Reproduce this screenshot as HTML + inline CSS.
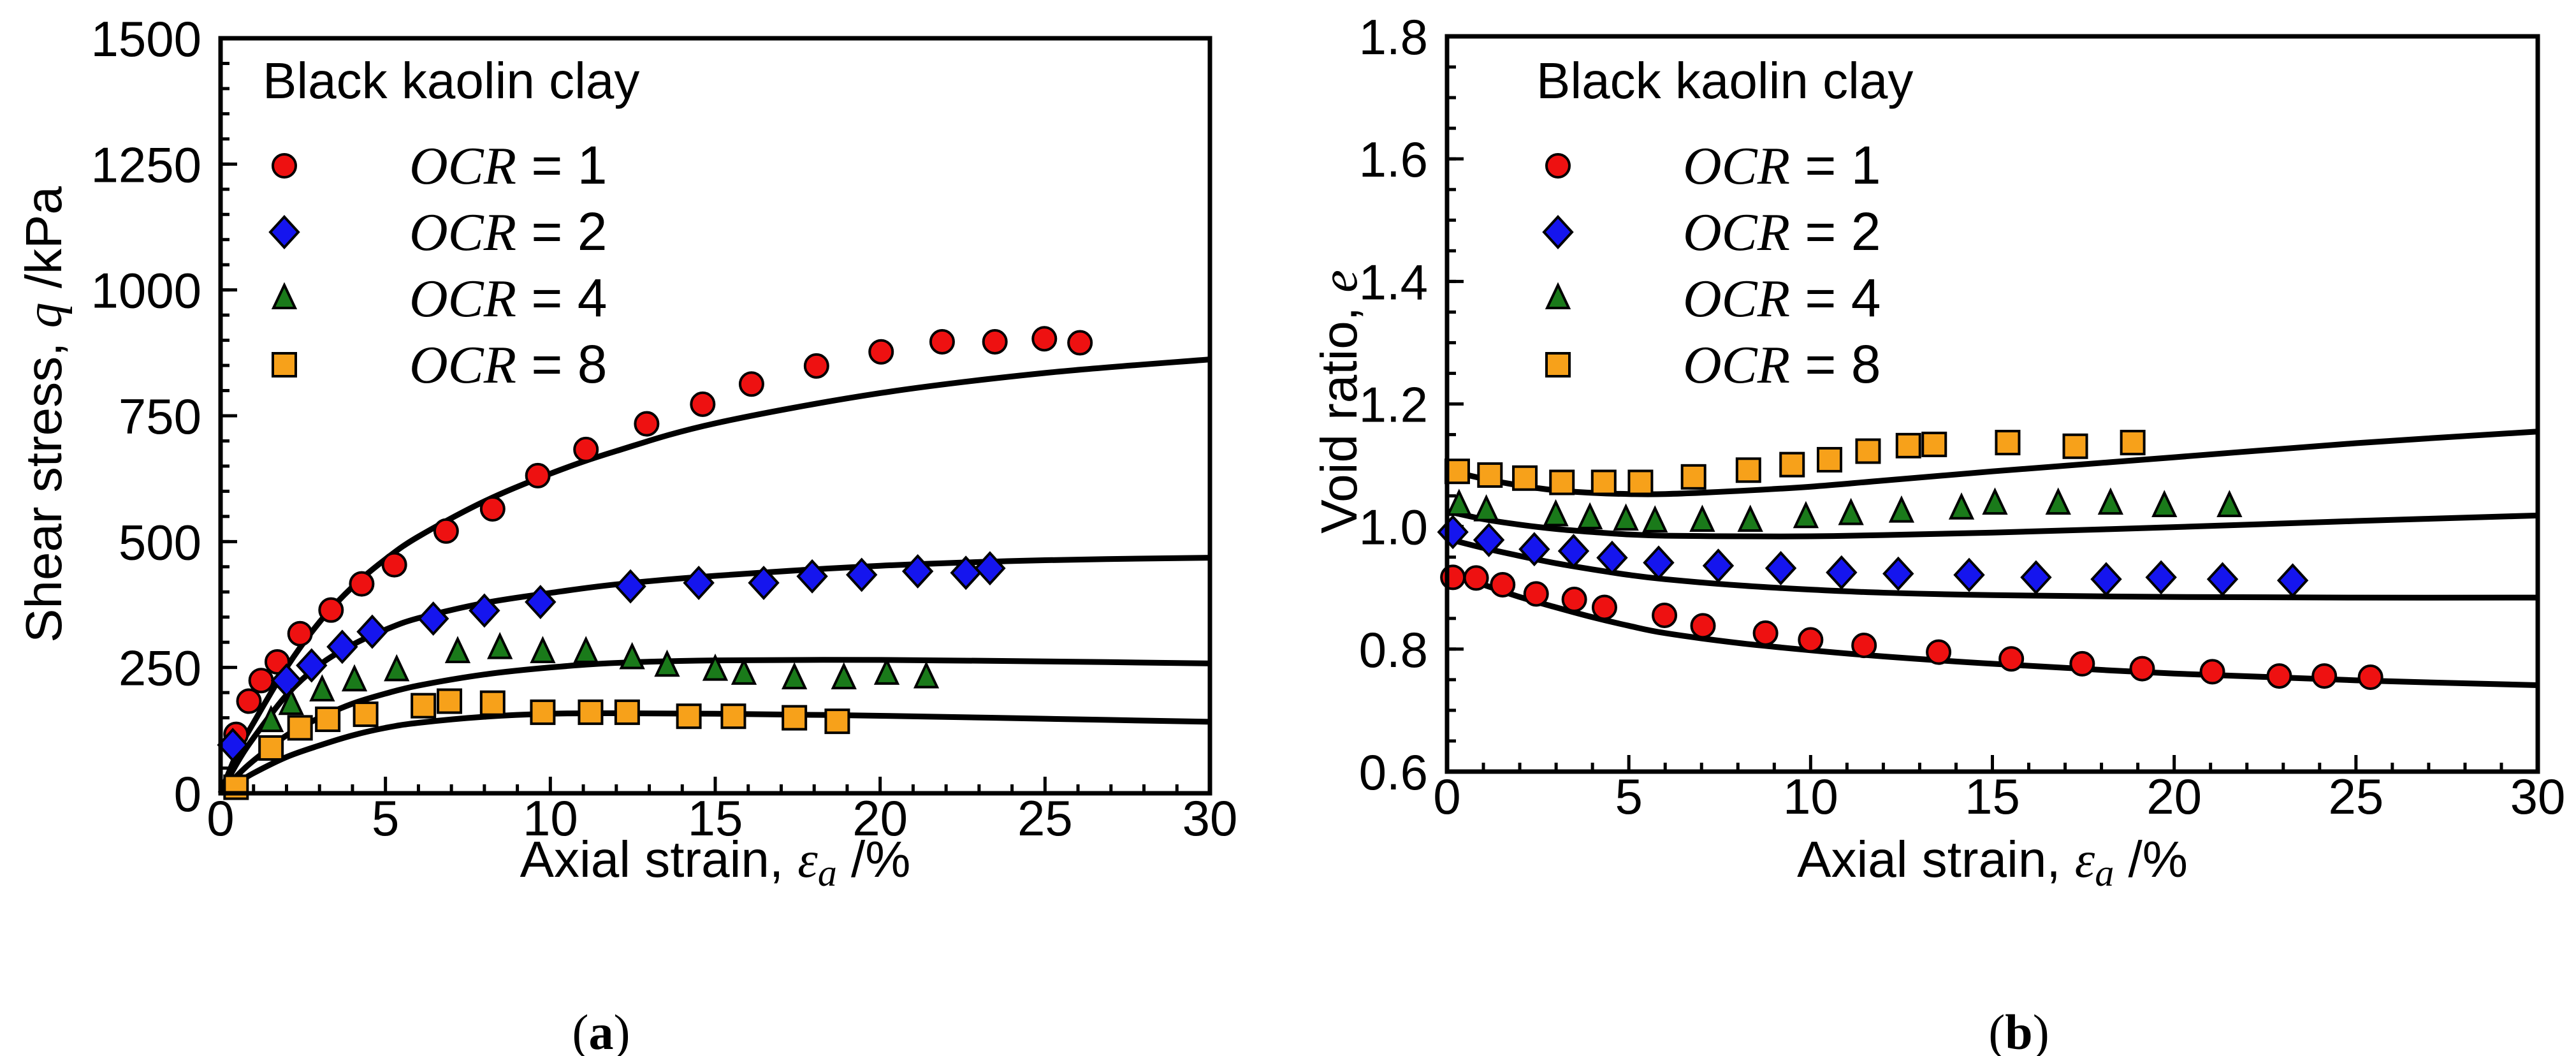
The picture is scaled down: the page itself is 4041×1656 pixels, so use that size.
<!DOCTYPE html>
<html><head><meta charset="utf-8"><style>
html,body{margin:0;padding:0;background:#fff;}
svg{display:block;font-family:"Liberation Sans",Arial,sans-serif;}
</style></head><body>
<svg id="fig" width="4041" height="1656" viewBox="0 0 4041 1656" xmlns="http://www.w3.org/2000/svg"></svg>
<script>
// ---- data panel (a): shear stress ----
const aX1=[0.47,0.86,1.23,1.72,2.41,3.35,4.28,5.27,6.84,8.25,9.62,11.08,12.92,14.62,16.1,18.07,20.03,21.88,23.48,24.98,26.06];
const aY1=[117,183,224,261,317,364,416,454,521,565,631,683,734,773,813,849,877,897,897,903,895];
const aX2=[0.37,2.0,2.76,3.69,4.6,6.45,8.0,9.7,12.43,14.5,16.47,17.94,19.44,21.14,22.6,23.33];
const aY2=[96,224,254,291,321,347,363,380,411,418,418,431,434,441,438,447];
const aX4=[1.53,2.14,3.08,4.06,5.34,7.19,8.47,9.77,11.08,12.48,13.54,15.0,15.87,17.4,18.9,20.2,21.4];
const aY4=[143,177,204,224,244,280,288,280,280,268,253,245,237,228,228,237,230];
const aX8=[0.47,1.53,2.41,3.25,4.4,6.15,6.94,8.25,9.77,11.22,12.33,14.2,15.55,17.4,18.7];
const aY8=[12,90,130,147,157,174,183,179,161,161,161,153,153,150,143];
const modelX=[0,0.5,1,2,3,4,5,6,8,10,12,15,20,25,30];
const aM1=[0,80,140,250,340,410,465,510,580,635,680,735,795,835,862];
const aM2=[0,60,110,195,255,295,325,348,378,398,415,432,452,463,468];
const aM4=[0,35,65,115,150,178,198,214,236,250,259,264,265,262,258];
const aM8=[0,20,40,72,95,115,130,140,152,158,159,158,154,148,142];
// ---- data panel (b): void ratio ----
const bX1=[0.16,0.8,1.53,2.45,3.5,4.33,5.98,7.04,8.76,10.0,11.47,13.52,15.52,17.47,19.12,21.05,22.89,24.13,25.4];
const bY1=[0.917,0.916,0.905,0.890,0.881,0.868,0.855,0.838,0.826,0.815,0.806,0.795,0.784,0.776,0.768,0.763,0.756,0.756,0.754];
const bX2=[0.16,1.15,2.4,3.48,4.54,5.82,7.46,9.18,10.85,12.41,14.36,16.2,18.13,19.64,21.33,23.26];
const bY2=[0.991,0.978,0.963,0.96,0.949,0.941,0.936,0.932,0.925,0.923,0.921,0.917,0.914,0.917,0.914,0.912];
const bX4=[0.33,1.08,2.99,3.93,4.92,5.72,7.02,8.34,9.87,11.11,12.5,14.15,15.07,16.81,18.25,19.73,21.52];
const bY4=[1.035,1.026,1.018,1.013,1.011,1.008,1.009,1.009,1.015,1.020,1.024,1.029,1.037,1.037,1.037,1.033,1.033];
const bX8=[0.28,1.18,2.14,3.16,4.31,5.32,6.78,8.29,9.49,10.52,11.58,12.69,13.4,15.42,17.28,18.86];
const bY8=[1.090,1.084,1.079,1.072,1.072,1.072,1.081,1.092,1.101,1.109,1.123,1.132,1.134,1.137,1.131,1.137];
const bModelX=[0,1,2,3,4,5,6,8,10,12,15,20,25,30];
const bM1=[0.925,0.905,0.885,0.868,0.852,0.838,0.826,0.810,0.798,0.788,0.776,0.760,0.749,0.741];
const bM2=[0.980,0.965,0.952,0.940,0.930,0.921,0.914,0.904,0.897,0.892,0.888,0.885,0.884,0.884];
const bM4=[1.025,1.012,1.003,0.996,0.991,0.987,0.985,0.984,0.984,0.986,0.990,0.999,1.009,1.018];
const bM8=[1.092,1.078,1.067,1.059,1.055,1.053,1.053,1.058,1.065,1.075,1.090,1.113,1.136,1.155];
const xTicks=[0,5,10,15,20,25,30];
const aYTicks=[0,250,500,750,1000,1250,1500];
const bYTicks=[0.6,0.8,1.0,1.2,1.4,1.6,1.8];
const bYLabels=["0.6","0.8","1.0","1.2","1.4","1.6","1.8"];

const NS="http://www.w3.org/2000/svg";
const svg=document.getElementById('fig');
function mk(tag,attrs,parent){const e=document.createElementNS(NS,tag);for(const k in attrs)e.setAttribute(k,attrs[k]);(parent||svg).appendChild(e);return e;}

function panel(cfg){
  const g=mk('g',{});
  
  
  const {L,R,T,B,ymin,ymax}=cfg;
  const sx=v=>L+(v-0)/30*(R-L);
  const sy=v=>B-(v-ymin)/(ymax-ymin)*(B-T);
  for(let i=1;i<30;i++){ if(i%5===0) continue;
    const t=mk('line',{x1:sx(i),x2:sx(i),y1:B,y2:B-14,stroke:'#000','stroke-width':5},g);
    
    
  }
  const nMinor=Math.round((ymax-ymin)/cfg.minorStep);
  for(let i=1;i<nMinor;i++){const v=ymin+i*cfg.minorStep;
    const t=mk('line',{x1:L,x2:L+14,y1:sy(v),y2:sy(v),stroke:'#000','stroke-width':5},g);
    
    
  }
  xTicks.forEach(v=>{
    const t=mk('line',{x1:sx(v),x2:sx(v),y1:B,y2:B-26,stroke:'#000','stroke-width':5},g);
    
    
    const tx=mk('text',{x:sx(v),y:B+66,'text-anchor':'middle','font-size':78},g);
    tx.textContent=v;
    
    
  });
  cfg.yTicks.forEach((v,i)=>{
    const t=mk('line',{x1:L,x2:L+26,y1:sy(v),y2:sy(v),stroke:'#000','stroke-width':5},g);
    
    
    const tx=mk('text',{x:L-30,y:sy(v)+28,'text-anchor':'end','font-size':78},g);
    tx.textContent=cfg.yLabels[i];
    
    
  });
  cfg.models.forEach(m=>{
    const pts=m.map((v,i)=>[sx(cfg.mx[i]),sy(v)]);
    let d='M'+pts[0][0]+','+pts[0][1];
    for(let i=0;i<pts.length-1;i++){
      const p0=pts[Math.max(0,i-1)],p1=pts[i],p2=pts[i+1],p3=pts[Math.min(pts.length-1,i+2)];
      const c1=[p1[0]+(p2[0]-p0[0])/6,p1[1]+(p2[1]-p0[1])/6];
      const c2=[p2[0]-(p3[0]-p1[0])/6,p2[1]-(p3[1]-p1[1])/6];
      d+=` C${c1[0]},${c1[1]} ${c2[0]},${c2[1]} ${p2[0]},${p2[1]}`;
    }
    const p=mk('path',{d:d,fill:'none',stroke:'#000','stroke-width':9},g);
    
    
  });
  const styles=['circle','diamond','triangle','square'];
  cfg.series.forEach((s,k)=>{
    s[0].forEach((xv,i)=>{
      const m=marker(styles[k],sx(xv),sy(s[1][i]),g);
      
      
    });
  });
  const f=mk('rect',{x:L,y:T,width:R-L,height:B-T,fill:'none',stroke:'#000','stroke-width':7},g);
  
  
  const lg=mk('g',{},g);
  
  
  const lt=mk('text',{x:cfg.legX,y:154,'font-size':80},lg);
  lt.textContent='Black kaolin clay';
  
  
  [1,2,4,8].forEach((o,k)=>{
    const yy=260+k*104;
    const m=marker(styles[k],cfg.legX+34,yy,lg);
    
    
    const t=mk('text',{x:cfg.legX+230,y:yy+28,'font-size':84},lg);
    t.innerHTML='<tspan font-family="Liberation Serif,serif" font-style="italic">OCR</tspan> = '+o;
    
    
  });
  const xt=mk('text',{x:(L+R)/2,y:1375,'text-anchor':'middle','font-size':80},g);
  xt.innerHTML='Axial strain, <tspan font-family="Liberation Serif,serif" font-style="italic">ε</tspan><tspan font-family="Liberation Serif,serif" font-style="italic" font-size="60" dy="14">a</tspan><tspan dy="-14"> /%</tspan>';
  
  
  const yt=mk('text',{x:0,y:0,'text-anchor':'middle','font-size':80,transform:`translate(${cfg.ytX},${cfg.ytY}) rotate(-90)`},g);
  yt.innerHTML=cfg.yTitle;
  
  
  const pl=mk('text',{x:cfg.capX,y:1645,'text-anchor':'middle','font-size':78,'font-family':'Liberation Serif,serif'},g);
  pl.innerHTML='(<tspan font-weight="bold">'+cfg.cap+'</tspan>)';
  
  
}
function marker(type,x,y,g){
  const st={stroke:'#000','stroke-width':4};
  if(type==='circle') return mk('circle',Object.assign({cx:x,cy:y,r:18,fill:'#ee1111'},st),g);
  if(type==='diamond') return mk('polygon',Object.assign({points:`${x},${y-24} ${x+22},${y} ${x},${y+24} ${x-22},${y}`,fill:'#1515ee'},st),g);
  if(type==='triangle') return mk('polygon',Object.assign({points:`${x},${y-21} ${x+17},${y+15} ${x-17},${y+15}`,fill:'#1a7a1a'},st),g);
  return mk('rect',Object.assign({x:x-18,y:y-18,width:36,height:36,fill:'#f7a11a'},st),g);
}
panel({name:'chart-a-shear-stress',L:346,R:1898,T:60,B:1244,ymin:0,ymax:1500,minorStep:50,
  yTicks:aYTicks,yLabels:aYTicks.map(String),mx:modelX,models:[aM1,aM2,aM4,aM8],
  series:[[aX1,aY1],[aX2,aY2],[aX4,aY4],[aX8,aY8]],legX:412,ytX:96,ytY:650,
  yTitle:'Shear stress, <tspan font-family="Liberation Serif,serif" font-style="italic">q</tspan> /kPa',capX:943,cap:'a'});
panel({name:'chart-b-void-ratio',L:2270,R:3981,T:57,B:1210,ymin:0.6,ymax:1.8,minorStep:0.05,
  yTicks:bYTicks,yLabels:bYLabels,mx:bModelX,models:[bM1,bM2,bM4,bM8],
  series:[[bX1,bY1],[bX2,bY2],[bX4,bY4],[bX8,bY8]],legX:2410,ytX:2128,ytY:630,
  yTitle:'Void ratio, <tspan font-family="Liberation Serif,serif" font-style="italic">e</tspan>',capX:3167,cap:'b'});
</script>
</body></html>
